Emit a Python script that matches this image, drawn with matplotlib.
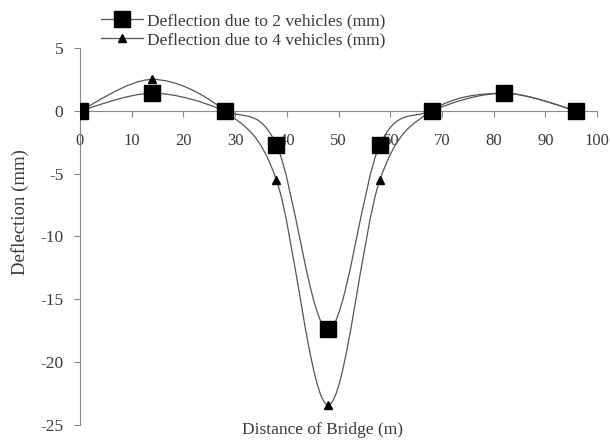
import numpy as np
import matplotlib
matplotlib.use("Agg")
import matplotlib.pyplot as plt
from matplotlib.path import Path
from matplotlib.patches import PathPatch
from matplotlib.lines import Line2D

plt.rcParams["font.family"] = ["Liberation Serif", "DejaVu Serif"]
plt.rcParams["axes.unicode_minus"] = False

# data
distance = [0, 14, 28, 38, 48, 58, 68, 82, 96]
defl_2veh = [0, 1.4, 0, -2.7, -17.4, -2.7, 0, 1.4, 0]
defl_4veh = [0, 2.5, 0, -5.5, -23.4, -5.5, 0, 1.4, 0]
label_2veh = "Deflection due to 2 vehicles (mm)"
label_4veh = "Deflection due to 4 vehicles (mm)"

LINE_C = "#555555"
TEXT_C = "#3a3a3a"


def smooth_path(x, y):
    # excel-like smoothed line (catmull-rom as cubic beziers)
    pts = np.column_stack([x, y]).astype(float)
    p = np.vstack([pts[0], pts, pts[-1]])
    verts = [pts[0]]
    codes = [Path.MOVETO]
    for i in range(1, len(p) - 2):
        c1 = p[i] + (p[i + 1] - p[i - 1]) / 6
        c2 = p[i + 1] - (p[i + 2] - p[i]) / 6
        verts += [c1, c2, p[i + 1]]
        codes += [Path.CURVE4] * 3
    return Path(verts, codes)


fig = plt.figure(figsize=(6.1, 4.4), dpi=100)
ax = fig.add_axes([80 / 610, 1 - 425 / 440, (597 - 80) / 610, (425 - 48) / 440])

ax.add_patch(PathPatch(smooth_path(distance, defl_4veh), fill=False,
                       ec=LINE_C, lw=0.9, zorder=2))
ax.add_patch(PathPatch(smooth_path(distance, defl_2veh), fill=False,
                       ec=LINE_C, lw=0.9, zorder=2))
ax.plot(distance, defl_4veh, ls="none", marker="^", ms=6, color="black", zorder=3)
ax.plot(distance, defl_2veh, ls="none", marker="s", ms=11, color="black", zorder=4)

ax.set_xlim(0, 100)
ax.set_ylim(-25, 5)
ax.set_xticks(range(0, 101, 10))
ax.set_yticks(range(-25, 6, 5))

for s in ["top", "right"]:
    ax.spines[s].set_visible(False)
ax.spines["bottom"].set_position(("data", 0))
ax.spines["left"].set_position(("data", 0))
for s in ["bottom", "left"]:
    ax.spines[s].set_color("#888888")
    ax.spines[s].set_linewidth(0.8)

ax.tick_params(axis="x", direction="out", length=4, width=0.8, color="#888888",
               pad=12, labelsize=12, labelcolor=TEXT_C)
ax.tick_params(axis="y", direction="out", length=4, width=0.8, color="#888888",
               pad=8, labelsize=12.5, labelcolor=TEXT_C)

fig.text(323 / 610, 1 - 430 / 440, "Distance of Bridge (m)", fontsize=12.5,
         color=TEXT_C, ha="center", va="center")
fig.text(20 / 610, 1 - 212 / 440, "Deflection (mm)", fontsize=13.5,
         color=TEXT_C, ha="center", va="center", rotation=90)

handles = [
    Line2D([], [], color=LINE_C, lw=0.9, marker="s", ms=11, mfc="black", mec="black"),
    Line2D([], [], color=LINE_C, lw=0.9, marker="^", ms=6, mfc="black", mec="black"),
]
fig.legend(handles, [label_2veh, label_4veh], loc="upper left",
           bbox_to_anchor=(89 / 610, 1 - 1 / 440), frameon=False,
           fontsize=12.5, labelcolor=TEXT_C, handlelength=2.4,
           handletextpad=0.25, labelspacing=0.15, borderpad=0.2)

fig.savefig("out.png", dpi=100)
